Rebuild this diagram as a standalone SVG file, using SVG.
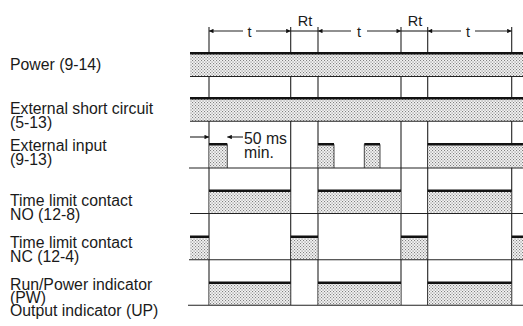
<svg xmlns="http://www.w3.org/2000/svg" width="523" height="326" viewBox="0 0 523 326">
<style>
.lbl{font-family:"Liberation Sans",Arial,sans-serif;font-size:15.8px;fill:#1a1a1a}
.dim{font-family:"Liberation Sans",Arial,sans-serif;font-size:14.5px;fill:#1a1a1a;text-anchor:middle}
.thin{stroke:#222;stroke-width:1.1;fill:none}
.top{stroke:#111;stroke-width:2.6;fill:none}
.hatch{fill:url(#dots);stroke:none}
.side{stroke:#333;stroke-width:0.9;fill:none}
</style>
<defs>
<pattern id="dots" width="3" height="3" patternUnits="userSpaceOnUse">
<rect width="3" height="3" fill="#f4f4f4"/>
<rect x="0" y="0" width="1.1" height="1.1" fill="#808080"/>
<rect x="1.5" y="1.5" width="1.1" height="1.1" fill="#808080"/>
</pattern>
<marker id="arr" viewBox="0 0 10 10" refX="10" refY="5" markerWidth="9" markerHeight="4.5" markerUnits="userSpaceOnUse" orient="auto">
<path d="M0,0 L10,5 L0,10 Z" fill="#111"/>
</marker>
</defs>
<rect width="523" height="326" fill="#fff"/>

<g id="connectors">
<g id="verticals" class="thin">
<line x1="209" y1="27" x2="209" y2="305"/>
<line x1="290.7" y1="27" x2="290.7" y2="305"/>
<line x1="318" y1="27" x2="318" y2="305"/>
<line x1="401" y1="27" x2="401" y2="305"/>
<line x1="427.7" y1="27" x2="427.7" y2="305"/>
<line x1="511.7" y1="27" x2="511.7" y2="305"/>
</g>
<g id="dimensions" class="thin">
<line x1="243" y1="31" x2="209" y2="31" marker-end="url(#arr)"/>
<line x1="256" y1="31" x2="290.7" y2="31" marker-end="url(#arr)"/>
<line x1="290.7" y1="31" x2="318" y2="31"/>
<line x1="351" y1="31" x2="318" y2="31" marker-end="url(#arr)"/>
<line x1="367" y1="31" x2="401" y2="31" marker-end="url(#arr)"/>
<line x1="401" y1="31" x2="427.7" y2="31"/>
<line x1="461" y1="31" x2="427.7" y2="31" marker-end="url(#arr)"/>
<line x1="475" y1="31" x2="511.7" y2="31" marker-end="url(#arr)"/>
<line x1="190" y1="137" x2="209" y2="137" marker-end="url(#arr)"/>
<line x1="243" y1="137" x2="227.3" y2="137" marker-end="url(#arr)"/>
</g>
<g id="dim-labels">
<text class="dim" x="249.5" y="36.5">t</text>
<text class="dim" x="359" y="36.5">t</text>
<text class="dim" x="468" y="36.5">t</text>
<text class="dim" x="305" y="25.7">Rt</text>
<text class="dim" x="415" y="25.7">Rt</text>
<text class="lbl" x="244" y="144">50 ms</text>
<text class="lbl" x="244" y="158">min.</text>
</g>
</g>

<g id="power">
<text class="lbl" x="10" y="70">Power (9-14)</text>
<rect class="hatch" x="190" y="53.3" width="333" height="23"/>
<line class="top" x1="190" y1="53.3" x2="523" y2="53.3"/>
<line class="thin" x1="190" y1="76.5" x2="523" y2="76.5"/>
</g>

<g id="ext-short">
<text class="lbl" x="10" y="114.3">External short circuit</text>
<text class="lbl" x="10" y="128.3">(5-13)</text>
<rect class="hatch" x="190" y="98.3" width="333" height="22.7"/>
<line class="top" x1="190" y1="98.3" x2="523" y2="98.3"/>
<line class="thin" x1="190" y1="121.3" x2="523" y2="121.3"/>
</g>

<g id="ext-input">
<text class="lbl" x="10" y="151">External input</text>
<text class="lbl" x="10" y="165">(9-13)</text>
<rect class="hatch" x="209.5" y="144.3" width="17.8" height="23.5"/>
<rect class="hatch" x="318.5" y="144.3" width="15.5" height="23.5"/>
<rect class="hatch" x="364.3" y="144.3" width="15.7" height="23.5"/>
<rect class="hatch" x="428.2" y="144.3" width="94.8" height="23.5"/>
<line class="side" x1="227.3" y1="144.3" x2="227.3" y2="168"/>
<line class="side" x1="334" y1="144.3" x2="334" y2="168"/>
<line class="side" x1="364.3" y1="144.3" x2="364.3" y2="168"/>
<line class="side" x1="380" y1="144.3" x2="380" y2="168"/>
<path class="top" d="M209,144.3H227.3M318,144.3H334M364.3,144.3H380M427.7,144.3H523"/>
<line class="thin" x1="189" y1="168" x2="523" y2="168"/>
</g>

<g id="no-contact">
<text class="lbl" x="10" y="206">Time limit contact</text>
<text class="lbl" x="10" y="220">NO (12-8)</text>
<rect class="hatch" x="209.5" y="190.7" width="80.7" height="22.6"/>
<rect class="hatch" x="318.5" y="190.7" width="82" height="22.6"/>
<rect class="hatch" x="428.2" y="190.7" width="83" height="22.6"/>
<path class="top" d="M209,190.7H290.7M318,190.7H401M427.7,190.7H511.7"/>
<line class="thin" x1="190" y1="213.5" x2="523" y2="213.5"/>
</g>

<g id="nc-contact">
<text class="lbl" x="10" y="248">Time limit contact</text>
<text class="lbl" x="10" y="262">NC (12-4)</text>
<rect class="hatch" x="190" y="236.7" width="18.5" height="22.8"/>
<rect class="hatch" x="291.2" y="236.7" width="26.3" height="22.8"/>
<rect class="hatch" x="401.5" y="236.7" width="25.7" height="22.8"/>
<rect class="hatch" x="512.2" y="236.7" width="10.8" height="22.8"/>
<path class="top" d="M190,236.7H209M290.7,236.7H318M401,236.7H427.7M511.7,236.7H523"/>
<line class="thin" x1="189" y1="259.7" x2="523" y2="259.7"/>
</g>

<g id="run-indicator">
<text class="lbl" x="10" y="290">Run/Power indicator</text>
<text class="lbl" x="10" y="303.3">(PW)</text>
<text class="lbl" x="10" y="316">Output indicator (UP)</text>
<rect class="hatch" x="209.5" y="282.7" width="80.7" height="22.3"/>
<rect class="hatch" x="318.5" y="282.7" width="82" height="22.3"/>
<rect class="hatch" x="428.2" y="282.7" width="83" height="22.3"/>
<path class="top" d="M209,282.7H290.7M318,282.7H401M427.7,282.7H511.7"/>
<line class="thin" x1="188" y1="305.2" x2="523" y2="305.2"/>
</g>
</svg>
